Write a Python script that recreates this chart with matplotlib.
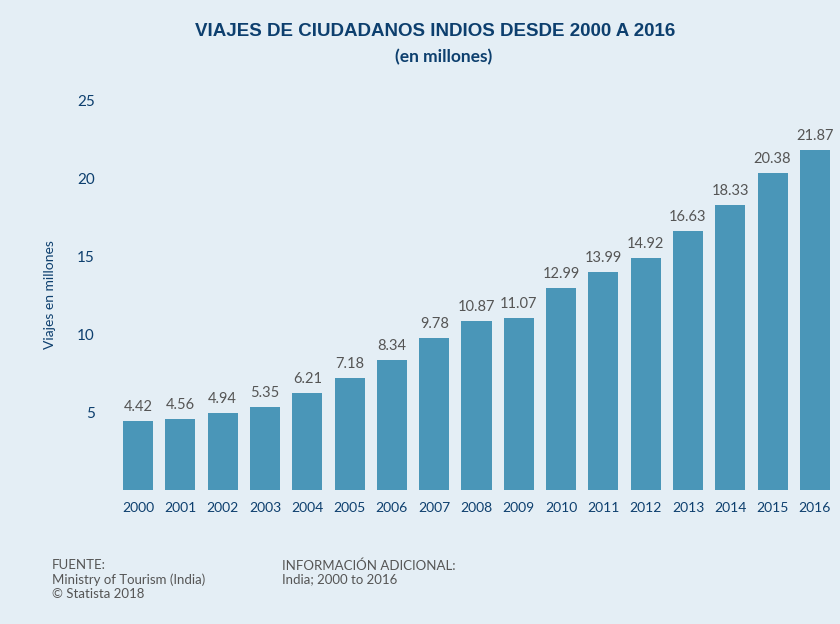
import matplotlib.pyplot as plt
import numpy as np

plt.rcParams['font.family'] = ['Lato', 'DejaVu Sans']

years = ['2000', '2001', '2002', '2003', '2004', '2005', '2006', '2007', '2008',
         '2009', '2010', '2011', '2012', '2013', '2014', '2015', '2016']
trips = [4.42, 4.56, 4.94, 5.35, 6.21, 7.18, 8.34, 9.78, 10.87,
         11.07, 12.99, 13.99, 14.92, 16.63, 18.33, 20.38, 21.87]
yticks = [5, 10, 15, 20, 25]

bg = '#e4eef5'
bar_color = '#4a96b8'
navy = '#0d3f6e'
gray = '#555555'

fig = plt.figure(figsize=(8.4, 6.24), dpi=100, facecolor=bg)
ax = fig.add_axes([117 / 840, 1 - 490 / 624, 719 / 840, 389 / 624])
ax.set_facecolor(bg)

x = np.arange(len(years))
bars = ax.bar(x, trips, width=0.71, color=bar_color, zorder=2)

for xi, v in zip(x, trips):
    ax.text(xi, v + 0.45, f'{v:g}', ha='center', va='bottom', fontsize=10.5, color=gray)

ax.set_xlim(-0.5, len(years) - 0.5)
ax.set_ylim(0, 25)
ax.set_xticks(x)
ax.set_xticklabels(years, fontsize=10, color=navy)
ax.set_yticks(yticks)
ax.set_yticklabels([str(t) for t in yticks], fontsize=11, color=navy)
ax.tick_params(axis='both', length=0)
ax.tick_params(axis='x', pad=9)
ax.tick_params(axis='y', pad=16)
for s in ax.spines.values():
    s.set_visible(False)

fig.text(50 / 840, 1 - 295 / 624, 'Viajes en millones', rotation=90, ha='center',
         va='center', fontsize=10, color=navy)

fig.text(435 / 840, 1 - 32 / 624, 'VIAJES DE CIUDADANOS INDIOS DESDE 2000 A 2016',
         ha='center', va='center', fontsize=13.5, fontweight='bold', color=navy,
         family=['Liberation Sans', 'DejaVu Sans'])
fig.text(444 / 840, 1 - 57 / 624, '(en millones)', ha='center', va='center',
         fontsize=12.5, fontweight='bold', color=navy)

fig.text(52 / 840, 1 - 559 / 624, 'FUENTE:\nMinistry of Tourism (India)\n© Statista 2018',
         ha='left', va='top', fontsize=9.5, color=gray, linespacing=1.2)
fig.text(282 / 840, 1 - 559 / 624, 'INFORMACIÓN ADICIONAL:\nIndia; 2000 to 2016',
         ha='left', va='top', fontsize=9.5, color=gray, linespacing=1.2)

fig.savefig('out.png', dpi=100, facecolor=bg)
